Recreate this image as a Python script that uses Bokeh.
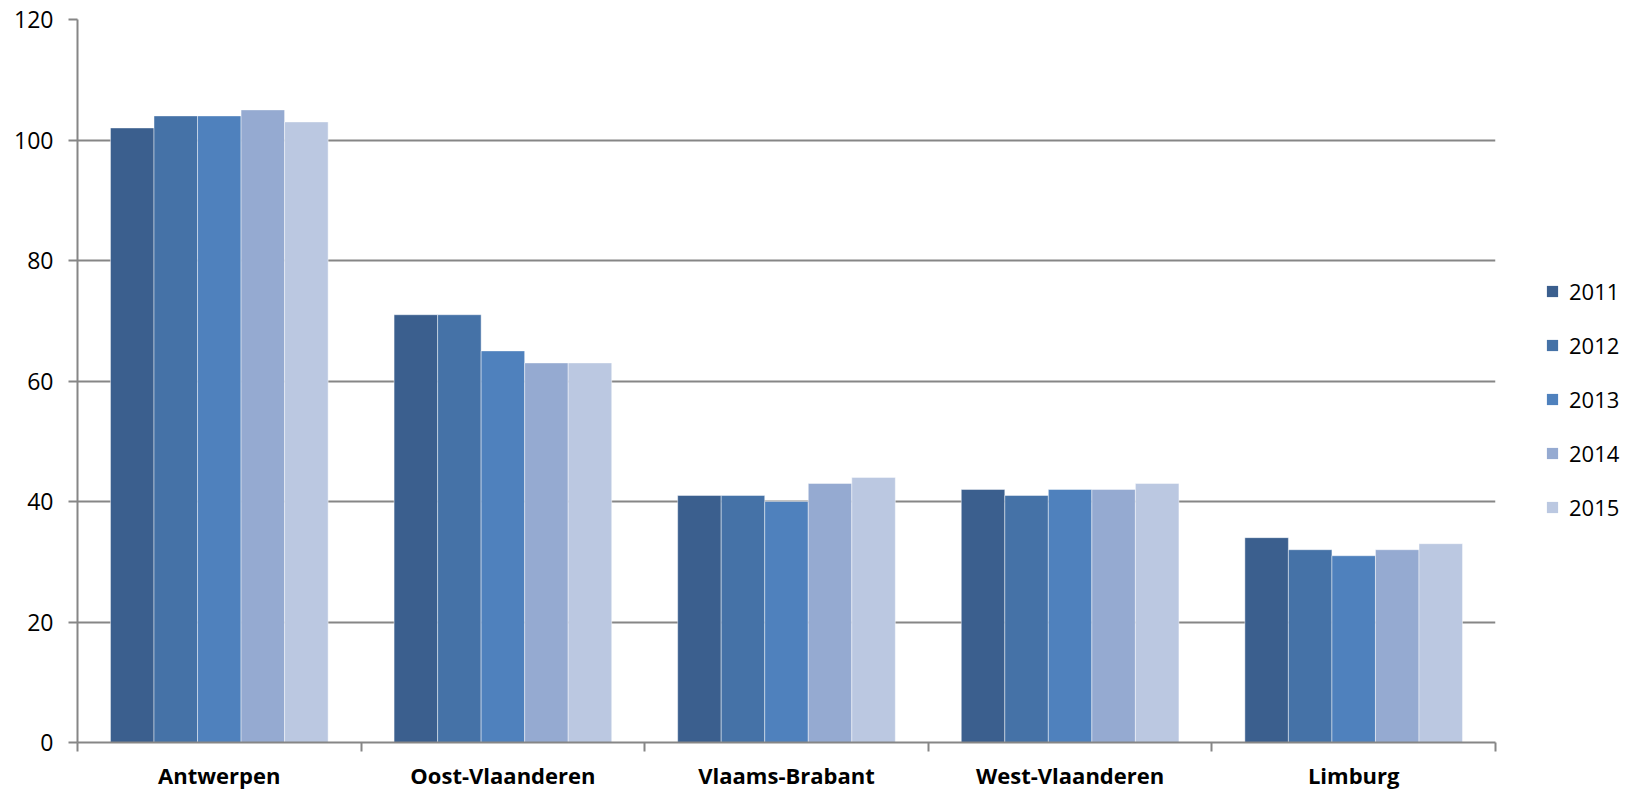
from bokeh.plotting import figure
from bokeh.layouts import row
from bokeh.models import ColumnDataSource, Range1d, FixedTicker, Legend, LegendItem
from bokeh.embed import file_html
from bokeh.resources import INLINE

regions = ["Antwerpen", "Oost-Vlaanderen", "Vlaams-Brabant", "West-Vlaanderen", "Limburg"]
years = ["2011", "2012", "2013", "2014", "2015"]
v2011 = [102, 71, 41, 42, 34]
v2012 = [104, 71, 41, 41, 32]
v2013 = [104, 65, 40, 42, 31]
v2014 = [105, 63, 43, 42, 32]
v2015 = [103, 63, 44, 43, 33]
series = [v2011, v2012, v2013, v2014, v2015]
colors = ["#3B5F8E", "#4572A7", "#4F81BD", "#95AAD1", "#BBC8E1"]
y_ticks = [0, 20, 40, 60, 80, 100, 120]

FONT = "Open Sans"
GRID = "#868686"
BAR_W = 0.1535
H = 792

p = figure(width=1520, height=H, output_backend="svg", toolbar_location=None,
           x_range=Range1d(0, len(regions)), y_range=Range1d(0, 120),
           min_border_left=77, min_border_right=25, min_border_top=19, min_border_bottom=40)
p.outline_line_color = None
p.background_fill_color = "white"
p.border_fill_color = "white"

for j, (yr, vals, col) in enumerate(zip(years, series, colors)):
    xs = [i + 0.5 + (j - 2) * BAR_W for i in range(len(regions))]
    src = ColumnDataSource(dict(x=xs, top=vals))
    p.vbar(x="x", top="top", bottom=0, width=BAR_W, source=src,
           fill_color=col, line_color="white", line_alpha=0.45, line_width=1)

# y axis
p.yaxis.ticker = FixedTicker(ticks=y_ticks)
p.yaxis.axis_line_color = GRID
p.yaxis.axis_line_width = 2
p.yaxis.major_tick_line_color = GRID
p.yaxis.major_tick_line_width = 2
p.yaxis.major_tick_out = 9
p.yaxis.major_tick_in = 0
p.yaxis.minor_tick_line_color = None
p.yaxis.major_label_standoff = 15
p.yaxis.major_label_text_font = FONT
p.yaxis.major_label_text_font_size = "23px"
p.yaxis.major_label_text_color = "#000000"

# x axis: labels at category centres, ticks at boundaries
centers = [i + 0.5 for i in range(len(regions))]
bounds = [i for i in range(len(regions) + 1)]
p.xaxis.ticker = FixedTicker(ticks=centers, minor_ticks=bounds)
p.xaxis.major_label_overrides = {c: name for c, name in zip(centers, regions)}
p.xaxis.axis_line_color = GRID
p.xaxis.axis_line_width = 2
p.xaxis.major_tick_line_color = None
p.xaxis.major_tick_out = 0
p.xaxis.major_tick_in = 0
p.xaxis.minor_tick_line_color = GRID
p.xaxis.minor_tick_line_width = 2
p.xaxis.minor_tick_out = 9
p.xaxis.minor_tick_in = 0
p.xaxis.major_label_standoff = 8
p.xaxis.major_label_text_font = FONT
p.xaxis.major_label_text_font_size = "22px"
p.xaxis.major_label_text_font_style = "bold"
p.xaxis.major_label_text_color = "#000000"

p.xgrid.grid_line_color = None
p.ygrid.ticker = FixedTicker(ticks=y_ticks)
p.ygrid.grid_line_color = GRID
p.ygrid.grid_line_width = 2

# legend panel (swatch renderers carry no visible data)
lg = figure(width=110, height=H, output_backend="svg", toolbar_location=None,
            x_range=Range1d(0, 1), y_range=Range1d(0, 1),
            min_border_left=0, min_border_right=0, min_border_top=0, min_border_bottom=0)
lg.axis.visible = False
lg.grid.visible = False
lg.outline_line_color = None
items = []
for yr, col in zip(years, colors):
    r = lg.vbar(x="x", top="top", bottom="bottom", width=0.1,
                source=ColumnDataSource(dict(x=[float("nan")], top=[float("nan")], bottom=[float("nan")])),
                fill_color=col, line_color=None)
    items.append(LegendItem(label=yr, renderers=[r], index=0))
legend = Legend(items=items, location=(25, 220), orientation="vertical")
legend.border_line_color = None
legend.background_fill_alpha = 0
legend.margin = 0
legend.padding = 0
legend.spacing = 24
legend.glyph_width = 14
legend.glyph_height = 14
legend.label_standoff = 10
legend.label_text_font = FONT
legend.label_text_font_size = "22px"
legend.label_text_color = "#000000"
lg.add_layout(legend, "center")

layout = row(p, lg)
open("out.html", "w").write(file_html(layout, INLINE))
